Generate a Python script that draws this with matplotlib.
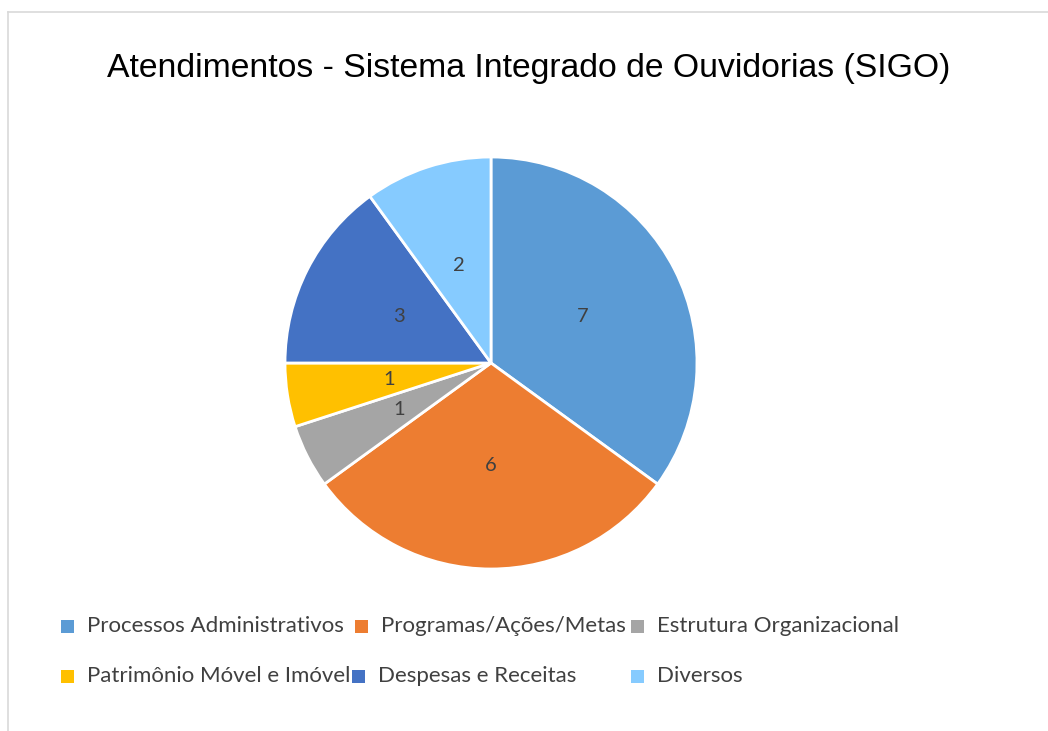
import matplotlib
matplotlib.use("Agg")
import matplotlib.pyplot as plt
from matplotlib.patches import Rectangle
from matplotlib.lines import Line2D

categories = ["Processos Administrativos", "Programas/Ações/Metas", "Estrutura Organizacional",
              "Patrimônio Móvel e Imóvel", "Despesas e Receitas", "Diversos"]
values = [7, 6, 1, 1, 3, 2]
colors = ["#5B9BD5", "#ED7D31", "#A5A5A5", "#FFC000", "#4472C4", "#86CBFF"]
title = "Atendimentos - Sistema Integrado de Ouvidorias (SIGO)"

W, H = 1048, 731
fig = plt.figure(figsize=(W / 100, H / 100), dpi=100)
fig.patch.set_facecolor("white")

# border lines (left and top)
fig.add_artist(Line2D([8 / W, 8 / W], [0, 1 - 12 / H], color="#D9D9D9", lw=1.2, transform=fig.transFigure))
fig.add_artist(Line2D([8 / W, 1], [1 - 12 / H, 1 - 12 / H], color="#D9D9D9", lw=1.2, transform=fig.transFigure))

cx, cy, r = 491, 363, 206
ax = fig.add_axes([(cx - r) / W, (H - cy - r) / H, 2 * r / W, 2 * r / H])
wedges, texts = ax.pie(values, colors=colors, startangle=90, counterclock=False,
                       labels=[str(v) for v in values], labeldistance=0.5,
                       wedgeprops=dict(edgecolor="white", linewidth=2),
                       textprops=dict(fontsize=14.5, color="#404040", family="Lato"))
for t in texts:
    t.set_horizontalalignment("center")
    t.set_verticalalignment("center")
ax.set_xlim(-1, 1)
ax.set_ylim(-1, 1)
ax.set_aspect("equal")
ax.axis("off")

fig.text(529 / W, 1 - 68 / H, title, ha="center", va="center", fontsize=24.3,
         family="Liberation Sans", color="#000000")

# legend (manual, Excel-like)
legend_pos = [(67, 626), (361, 626), (637, 626), (67, 676), (358, 676), (637, 676)]
sq = 13
for (lx, ly), lab, col in zip(legend_pos, categories, colors):
    fig.add_artist(Rectangle(((lx - sq / 2) / W, (H - ly - sq / 2) / H), sq / W, sq / H,
                             facecolor=col, edgecolor="none", transform=fig.transFigure))
    fig.text((lx + 20) / W, 1 - ly / H, lab, ha="left", va="center", fontsize=16,
             family="Lato", color="#404040")

fig.savefig("out.png", dpi=100, facecolor="white")
